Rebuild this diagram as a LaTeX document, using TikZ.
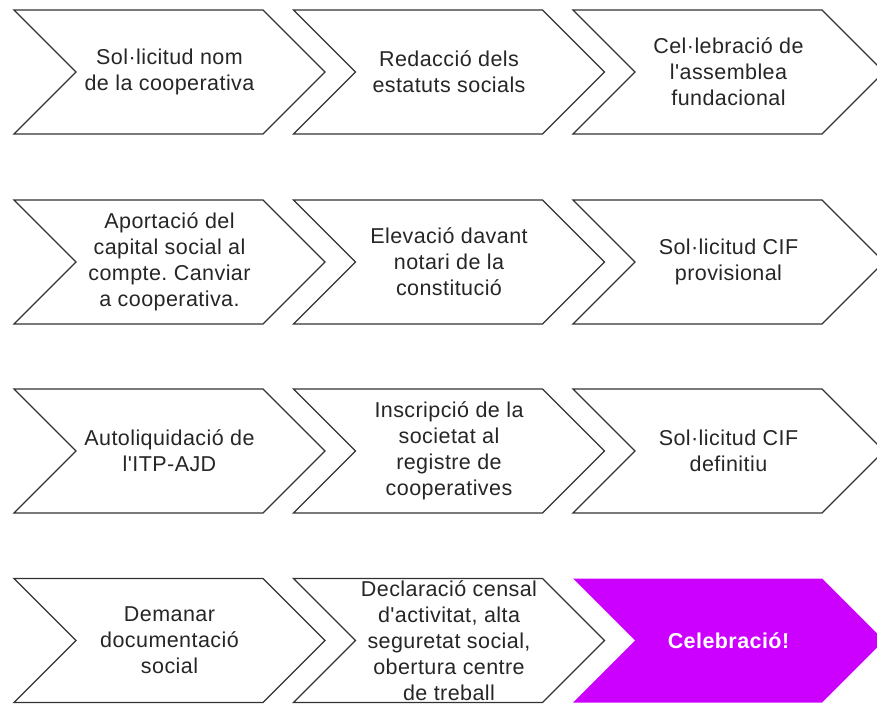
\documentclass[tikz,border=0pt]{standalone}
\usepackage{fontspec}
\setmainfont{Liberation Sans}[Ligatures=TeXOff, LetterSpace=2]
\usetikzlibrary{shapes.symbols,positioning}
\definecolor{celebra}{RGB}{204,0,255}

\begin{document}
\frenchspacing
\begin{tikzpicture}[
    x=1pt, y=1pt,
    stepbox/.style={signal, signal from=west, signal to=east, signal pointer angle=90, draw=black!80, line width=1.3pt, fill=white, minimum width=311pt, minimum height=124pt, inner sep=0pt, align=center, text=black!85, font=\fontsize{21.5}{26}\selectfont},
    finalbox/.style={stepbox, draw=none, fill=celebra, text=white, font=\fontsize{21.5}{26}\selectfont\bfseries}
]
\useasboundingbox (0,0) rectangle (877,705);
\clip (0,0) rectangle (877,705);

% Row 1
\node[stepbox] (nom) at (169.5, 633) {Sol·licitud nom\\de la cooperativa};
\node[stepbox] (estatuts) at (449, 633) {Redacció dels\\estatuts socials};
\node[stepbox] (assemblea) at (728.5, 633) {Cel·lebració de\\l'assemblea\\fundacional};

% Row 2
\node[stepbox] (capital) at (169.5, 443) {Aportació del\\capital social al\\compte. Canviar\\a cooperativa.};
\node[stepbox] (notari) at (449, 443) {Elevació davant\\notari de la\\constitució};
\node[stepbox] (cifprov) at (728.5, 443) {Sol·licitud CIF\\provisional};

% Row 3
\node[stepbox] (itp) at (169.5, 254) {Autoliquidació de\\l'ITP-AJD};
\node[stepbox] (registre) at (449, 254) {Inscripció de la\\societat al\\registre de\\cooperatives};
\node[stepbox] (cifdef) at (728.5, 254) {Sol·licitud CIF\\definitiu};

% Row 4
\node[stepbox] (docsocial) at (169.5, 64.5) {Demanar\\documentació\\social};
\node[stepbox] (censal) at (449, 64.5) {Declaració censal\\d'activitat, alta\\seguretat social,\\obertura centre\\de treball};
\node[finalbox] (celebracio) at (728.5, 64.5) {Celebració!};

\end{tikzpicture}
\end{document}
